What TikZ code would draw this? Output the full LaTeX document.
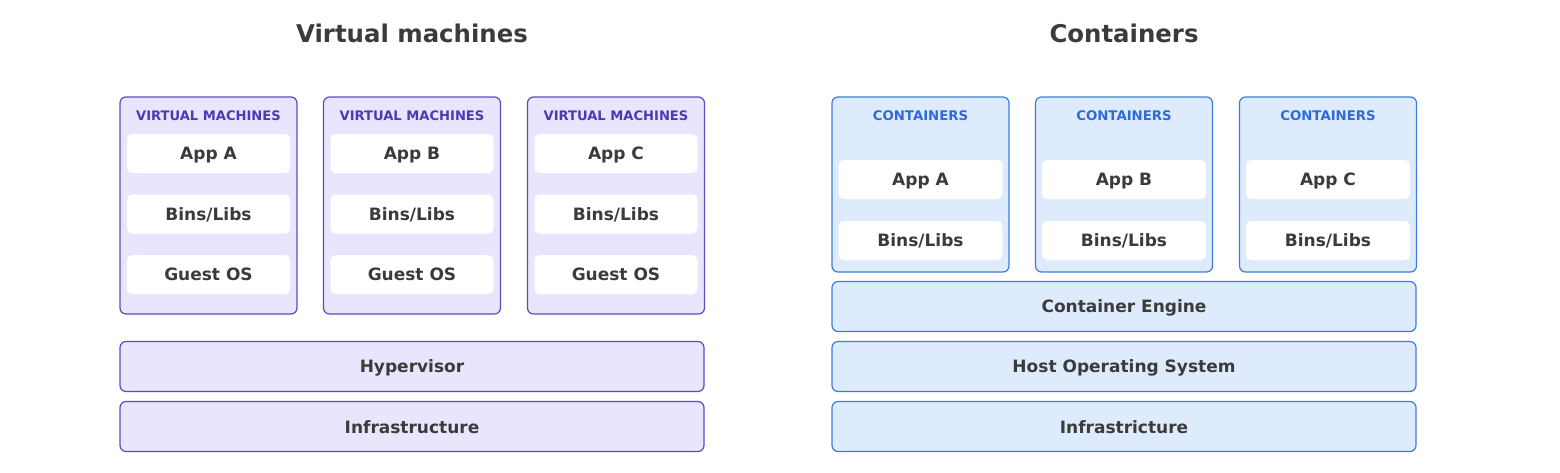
\documentclass[tikz,border=0pt]{standalone}
\usepackage{fontspec}
\setmainfont{DejaVu Sans}
\definecolor{vmfill}{HTML}{E8E5FC}
\definecolor{vmline}{HTML}{5A4BC5}
\definecolor{vmtext}{HTML}{4A3AB5}
\definecolor{ctfill}{HTML}{DEEBFD}
\definecolor{ctline}{HTML}{3D7BE0}
\definecolor{cttext}{HTML}{2E6BDA}
\definecolor{ink}{HTML}{3B3B3B}
\tikzset{
  vmbox/.style={draw=vmline, fill=vmfill, line width=1.2pt, rounded corners=6pt, inner sep=0pt},
  ctbox/.style={draw=ctline, fill=ctfill, line width=1.2pt, rounded corners=6pt, inner sep=0pt},
  layer/.style={fill=white, rounded corners=5pt, inner sep=0pt, text=ink,
    font=\bfseries\fontsize{17}{20}\selectfont, text depth=0pt, text height=12.5pt},
  bartext/.style={text=ink, font=\bfseries\fontsize{17}{20}\selectfont, yshift=-1pt},
  title/.style={text=ink, font=\bfseries\fontsize{24.4}{28}\selectfont},
  vmlabel/.style={text=vmtext, font=\bfseries\fontsize{13.1}{15}\selectfont},
  ctlabel/.style={text=cttext, font=\bfseries\fontsize{13.3}{15}\selectfont},
}
\begin{document}
\begin{tikzpicture}[x=1pt,y=-1pt]
\useasboundingbox (0,0) rectangle (1560,472);
% titles
\node[title] (t1) at (412,33) {Virtual machines};
\node[title] (t2) at (1124,33) {Containers};
% VM columns
\foreach \i/\cx/\app in {1/208.5/A, 2/412/B, 3/616/C}{
  \node[vmbox, minimum width=177pt, minimum height=217pt] (vm\i) at (\cx,205.5) {};
  \node[vmlabel] (vml\i) at (\cx,116) {VIRTUAL MACHINES};
  \node[layer, minimum width=163pt, minimum height=39pt] (vapp\i) at (\cx,153.5) {App \app};
  \node[layer, minimum width=163pt, minimum height=39pt] (vbin\i) at (\cx,214) {Bins/Libs};
  \node[layer, minimum width=163pt, minimum height=39pt] (vos\i) at (\cx,274.5) {Guest OS};
}
\node[vmbox, minimum width=584pt, minimum height=50pt] (hyp) at (412,366.5) {};
\node[bartext] (hypt) at (hyp.center) {Hypervisor};
\node[vmbox, minimum width=584pt, minimum height=50pt] (vinf) at (412,426.5) {};
\node[bartext] (vinft) at (vinf.center) {Infrastructure};
% Container columns
\foreach \i/\cx/\app in {1/920.5/A, 2/1124/B, 3/1328/C}{
  \node[ctbox, minimum width=177pt, minimum height=175pt] (ct\i) at (\cx,184.5) {};
  \node[ctlabel] (ctl\i) at (\cx,116) {CONTAINERS};
  \node[layer, minimum width=164pt, minimum height=39pt] (capp\i) at (\cx,179.5) {App \app};
  \node[layer, minimum width=164pt, minimum height=39pt] (cbin\i) at (\cx,240.5) {Bins/Libs};
}
\node[ctbox, minimum width=584pt, minimum height=50pt] (eng) at (1124,306.5) {};
\node[bartext] (engt) at (eng.center) {Container Engine};
\node[ctbox, minimum width=584pt, minimum height=50pt] (host) at (1124,366.5) {};
\node[bartext] (hostt) at (host.center) {Host Operating System};
\node[ctbox, minimum width=584pt, minimum height=50pt] (cinf) at (1124,426.5) {};
\node[bartext] (cinft) at (cinf.center) {Infrastricture};
\end{tikzpicture}
\end{document}
